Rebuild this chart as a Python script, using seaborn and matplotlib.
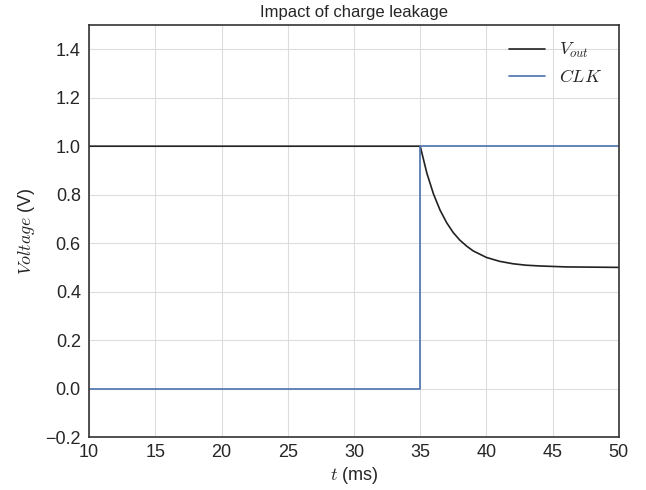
import numpy as np
import pandas as pd
import matplotlib
matplotlib.use('Agg')
import matplotlib.pyplot as plt
import seaborn as sns

# values
t_vout = [10, 35, 35.5, 36, 36.5, 37, 37.5, 38, 38.5, 39, 40, 41, 42, 43, 44, 46, 48, 50]
v_out = [1.0, 1.0, 0.889, 0.803, 0.736, 0.684, 0.643, 0.612, 0.588, 0.568, 0.541, 0.525,
         0.515, 0.509, 0.506, 0.502, 0.501, 0.500]
t_clk = [10, 35, 35, 50]
v_clk = [0.0, 0.0, 1.0, 1.0]

sns.set_theme(style='whitegrid')
plt.rcParams['font.family'] = ['Liberation Sans', 'DejaVu Sans']
plt.rcParams['mathtext.fontset'] = 'cm'

vout_df = pd.DataFrame({'t': t_vout, 'v': v_out})
clk_df = pd.DataFrame({'t': t_clk, 'v': v_clk})

fig, ax = plt.subplots(figsize=(6.46, 4.9), dpi=100)
sns.lineplot(data=vout_df, x='t', y='v', color='#222222', lw=1.2, label='$V_{out}$', ax=ax,
             sort=False, estimator=None)
sns.lineplot(data=clk_df, x='t', y='v', color='#4c72b0', lw=1.2, label='$CLK$', ax=ax,
             sort=False, estimator=None)

ax.set_xlim(10, 50)
ax.set_ylim(-0.2, 1.5)
ax.set_xticks(np.arange(10, 51, 5))
ax.set_yticks(np.arange(-0.2, 1.41, 0.2))
ax.tick_params(axis='x', labelsize=13, pad=-1)
ax.tick_params(axis='y', labelsize=13, pad=0)
ax.set_xlabel('$t$ (ms)', fontsize=13, labelpad=3)
ax.set_ylabel('$Voltage$ (V)', fontsize=13, labelpad=6)
ax.set_title('Impact of charge leakage', fontsize=12)
ax.grid(color='#dddddd', lw=0.8)
for s in ax.spines.values():
    s.set_color('#333333')
    s.set_linewidth(1.2)
ax.legend(loc='upper right', frameon=False, fontsize=13)

plt.subplots_adjust(left=0.138, right=0.958, top=0.949, bottom=0.108)
fig.savefig('out.png', dpi=100)
